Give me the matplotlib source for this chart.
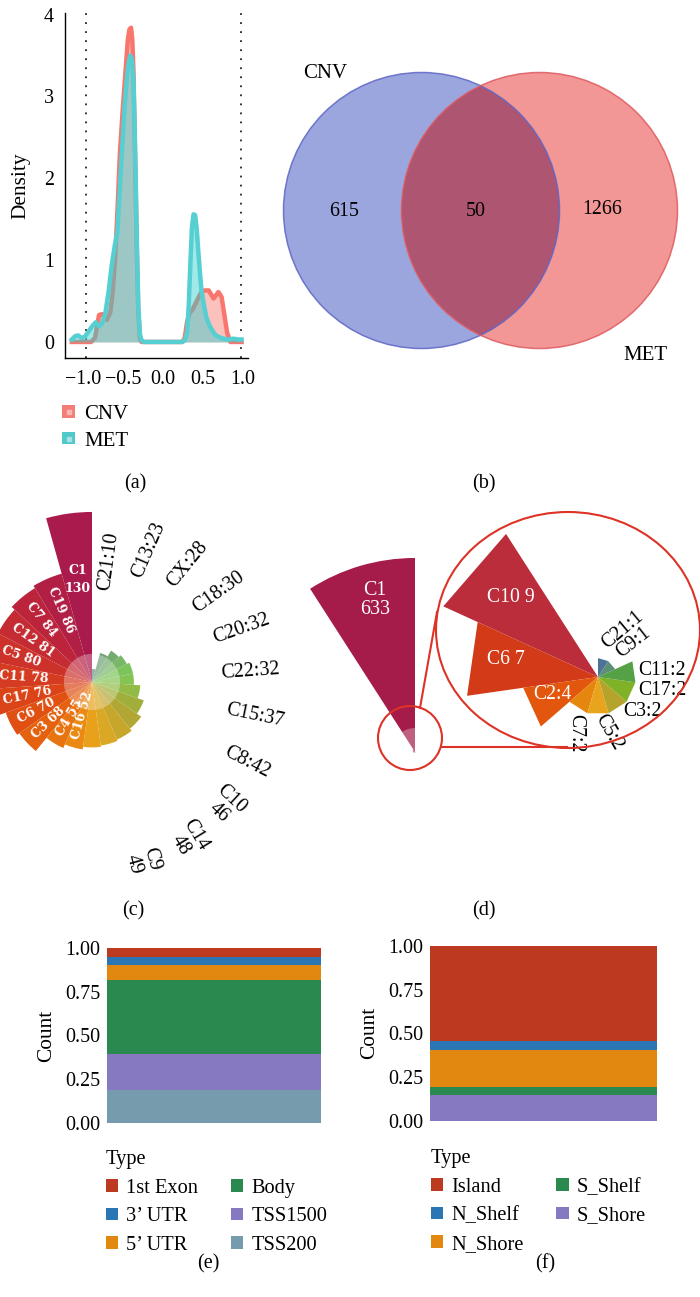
import numpy as np
import matplotlib
matplotlib.use("Agg")
import matplotlib.pyplot as plt
from matplotlib.patches import Circle, Ellipse, Patch, Polygon
from matplotlib.lines import Line2D

plt.rcParams['font.family'] = ['Liberation Serif', 'DejaVu Serif']

# ------------------------------------------------------------------ data
# (a) density of correlation values
cnv_x = [-1.14, -1.00, -0.90, -0.85, -0.80, -0.76, -0.70, -0.66, -0.63, -0.60,
         -0.57, -0.54, -0.50, -0.47, -0.44, -0.42, -0.40, -0.385, -0.37, -0.35,
         -0.33, -0.31, -0.29, -0.27, 0.24, 0.27, 0.30, 0.33, 0.37, 0.42,
         0.47, 0.52, 0.57, 0.63, 0.66, 0.69, 0.73, 0.77, 0.80, 0.84, 0.98]
cnv_density = [0.0, 0.0, 0.0, 0.05, 0.33, 0.34, 0.27, 0.36, 0.6, 1.0,
               1.6, 2.3, 2.9, 3.3, 3.7, 3.82, 3.84, 3.7, 3.3, 2.3,
               1.2, 0.4, 0.05, 0.0, 0.0, 0.05, 0.25, 0.35, 0.4, 0.5,
               0.6, 0.63, 0.63, 0.53, 0.57, 0.61, 0.55, 0.3, 0.11, 0.0, 0.0]
met_x = [-1.14, -1.10, -1.06, -1.02, -0.98, -0.93, -0.88, -0.84, -0.80, -0.76,
         -0.72, -0.68, -0.64, -0.60, -0.57, -0.54, -0.51, -0.48, -0.45, -0.43,
         -0.41, -0.39, -0.37, -0.355, -0.34, -0.325, -0.31, -0.29, -0.27, -0.24,
         0.24, 0.27, 0.30, 0.32, 0.34, 0.36, 0.38, 0.40, 0.42, 0.44,
         0.46, 0.48, 0.51, 0.54, 0.58, 0.62, 0.66, 0.72, 0.80, 0.88, 0.94, 0.98]
met_density = [0.03, 0.07, 0.08, 0.05, 0.06, 0.13, 0.20, 0.24, 0.19, 0.23,
               0.36, 0.62, 0.95, 1.20, 1.35, 1.90, 2.40, 2.90, 3.25, 3.42,
               3.50, 3.45, 3.20, 2.60, 1.90, 1.10, 0.45, 0.10, 0.02, 0.0,
               0.0, 0.02, 0.12, 0.45, 0.95, 1.40, 1.56, 1.55, 1.38, 1.10,
               0.85, 0.62, 0.45, 0.30, 0.20, 0.13, 0.08, 0.05, 0.03, 0.04, 0.03, 0.03]
density_cutoffs = [-0.96, 0.97]
density_xticks = [-1.0, -0.5, 0.0, 0.5, 1.0]
density_yticks = [0, 1, 2, 3, 4]
density_groups = ['CNV', 'MET']

# (b) Venn counts
venn_sets = ['CNV', 'MET']
venn_only_cnv = 615
venn_both = 50
venn_only_met = 1266

# (c) rose chart of chromosome counts
rose_c_chr = ['C1', 'C19', 'C7', 'C12', 'C5', 'C11', 'C17', 'C6', 'C3', 'C4', 'C16', 'C2',
              'C9', 'C14', 'C10', 'C8', 'C15', 'C22', 'C20', 'C18', 'CX', 'C13', 'C21']
rose_c_count = [130, 86, 84, 81, 80, 78, 76, 70, 68, 55, 52, 50,
                49, 48, 46, 42, 37, 32, 32, 30, 28, 23, 10]

# (d) rose chart of chromosome counts
rose_d_chr = ['C1', 'C10', 'C6', 'C2', 'C7', 'C5', 'C3', 'C17', 'C11', 'C9', 'C21']
rose_d_count = [633, 9, 7, 4, 2, 2, 2, 2, 2, 1, 1]

# (e), (f) stacked proportions
gene_types = ['1st Exon', '3\u2019 UTR', '5\u2019 UTR', 'Body', 'TSS1500', 'TSS200']
gene_share = [0.052, 0.044, 0.086, 0.424, 0.207, 0.187]
cpg_types = ['Island', 'N_Shelf', 'N_Shore', 'S_Shelf', 'S_Shore']
cpg_share = [0.544, 0.050, 0.213, 0.046, 0.147]
share_ticks = [0.00, 0.25, 0.50, 0.75, 1.00]

# ------------------------------------------------------------------ style
W, H = 700, 1297
fig = plt.figure(figsize=(W / 100, H / 100), dpi=100)


def rect(x0, y0, x1, y1):
    return [x0 / W, 1 - y1 / H, (x1 - x0) / W, (y1 - y0) / H]


CNV_COL, CNV_KEY, CNV_DOT = '#F8766D', '#F47E77', '#F9B7B2'
MET_COL, MET_FILL, MET_KEY, MET_DOT = '#55CFD1', '#2AD0CE', '#4FC9C9', '#A8E2E2'
ROSE_C_COLORS = ['#A91B4D', '#B21F45', '#BC243C', '#C42B33', '#CC322A', '#D43B20',
                 '#DA4418', '#DF5012', '#E4610F', '#E7740F', '#EA8A12', '#E9A11C',
                 '#DAA824', '#C6A72C', '#B2A634', '#A0AF3C', '#92BB46', '#85C454',
                 '#7CC35C', '#78B866', '#74AC6F', '#72A078', '#6E9584']
ROSE_D_COLORS = ['#A51C4B', '#BB2D3A', '#D23A18', '#E2560E', '#E5860F', '#E8A41C',
                 '#B6A32B', '#7FB226', '#55A146', '#5D8E76', '#4C7397']
GENE_COLORS = ['#BC3A1F', '#2A75B3', '#E2870F', '#2A894E', '#8779C1', '#769BAD']
CPG_COLORS = ['#BC3A1F', '#2A75B3', '#E2870F', '#2A894E', '#8779C1']
ZOOM_RED = '#DD3327'
TICK_FS = 14.4
LAB_FS = 15.4
LEG_FS = 14.7

# ------------------------------------------------------------------ (a)
axa = fig.add_axes(rect(65, 13, 248, 358))
axa.fill_between(cnv_x, cnv_density, 0, color=CNV_COL, alpha=0.45, lw=0, zorder=1)
axa.plot(cnv_x, cnv_density, color=CNV_COL, lw=3.2, zorder=2, solid_joinstyle='round')
axa.fill_between(met_x, met_density, 0, color=MET_FILL, alpha=0.45, lw=0, zorder=3)
axa.plot(met_x, met_density, color=MET_COL, lw=3.2, zorder=4, solid_joinstyle='round')
for c in density_cutoffs:
    axa.axvline(c, color='#222222', lw=1.3, ls=(0, (1, 4)), zorder=0)
axa.set_xlim(-1.225, 1.06)
axa.set_ylim(-0.196, 4.02)
axa.set_xticks(density_xticks)
axa.set_yticks(density_yticks)
axa.tick_params(length=0, labelsize=TICK_FS)
axa.tick_params(axis='x', pad=9)
axa.tick_params(axis='y', pad=8)
for s in ['top', 'right']:
    axa.spines[s].set_visible(False)
for s in ['left', 'bottom']:
    axa.spines[s].set_linewidth(1.0)
axa.set_ylabel('Density', fontsize=LAB_FS, labelpad=10)

handles_a = [(Patch(facecolor=CNV_KEY, edgecolor='none'),
              Line2D([], [], marker='s', ms=3, color=CNV_DOT, ls='')),
             (Patch(facecolor=MET_KEY, edgecolor='none'),
              Line2D([], [], marker='s', ms=3, color=MET_DOT, ls=''))]
fig.legend(handles_a, density_groups, loc='upper left',
           bbox_to_anchor=(62 / W, 1 - 405 / H), frameon=False, fontsize=15,
           handlelength=0.64, handleheight=0.55, handletextpad=0.42,
           labelspacing=0.36, borderpad=0, borderaxespad=0)

# ------------------------------------------------------------------ (b)
axb = fig.add_axes(rect(270, 40, 700, 370))
axb.set_xlim(270, 700)
axb.set_ylim(370, 40)
axb.set_axis_off()
VR = 138
c_cnv, c_met = (421.5, 210.5), (539.5, 210.5)
blue = Circle(c_cnv, VR, facecolor='#9BA6DE', edgecolor='none', zorder=1)
red = Circle(c_met, VR, facecolor='#F29696', edgecolor='none', zorder=2)
axb.add_patch(blue)
axb.add_patch(red)
lens = Circle(c_cnv, VR, facecolor='#AD5571', edgecolor='none', zorder=3)
axb.add_patch(lens)
lens.set_clip_path(red)
axb.add_patch(Circle(c_cnv, VR, fill=False, edgecolor='#5E66C6', lw=1.1, alpha=0.85, zorder=4))
axb.add_patch(Circle(c_met, VR, fill=False, edgecolor='#DE5A60', lw=1.1, alpha=0.85, zorder=4))
axb.text(325, 73, venn_sets[0], ha='center', va='center', fontsize=15)
axb.text(645, 355, venn_sets[1], ha='center', va='center', fontsize=15)
axb.text(344, 211, str(venn_only_cnv), ha='center', va='center', fontsize=14.4)
axb.text(476, 211, str(venn_both), ha='center', va='center', fontsize=14.4)
axb.text(602, 209, str(venn_only_met), ha='center', va='center', fontsize=14.4)

# ------------------------------------------------------------------ (c)
PXC = 1.308          # pixels per count
RC = 260             # axes radius in px
axc = fig.add_axes(rect(92 - RC, 682 - RC, 92 + RC, 682 + RC), projection='polar')
axc.set_theta_zero_location('N')
axc.set_theta_direction(1)
n_c = len(rose_c_count)
step_c = 2 * np.pi / n_c
theta_c = np.arange(n_c) * step_c
axc.bar(theta_c, rose_c_count, width=step_c, align='edge', color=ROSE_C_COLORS,
        edgecolor='none', zorder=1)
axc.bar(theta_c, np.full(n_c, 21.5), width=step_c, align='edge', color='white',
        alpha=0.3, edgecolor='none', zorder=2)
axc.set_ylim(0, RC / PXC)
axc.set_axis_off()
for i, (name, v) in enumerate(zip(rose_c_chr, rose_c_count)):
    mid = theta_c[i] + step_c / 2
    scr = 90 + np.degrees(mid)
    if i == 0:
        axc.text(mid, 79, f'{name}\n{v}', ha='center', va='center', color='white',
                 family=['DejaVu Serif'], fontweight='bold', fontsize=9,
                 linespacing=1.5, zorder=5)
    elif v > 50:
        axc.text(mid, v - 7, f'{name} {v}', rotation=scr - 180, rotation_mode='anchor',
                 ha='left', va='center', color='white', family=['DejaVu Serif'],
                 fontweight='bold', fontsize=9, zorder=5)
    elif v < 50:
        rot = scr - 360 if scr > 180 else scr
        sep = '\n' if 270 < scr < 320 else ':'
        axc.text(mid, 80 + 1.28 * v, f'{name}{sep}{v}', rotation=rot,
                 rotation_mode='anchor', ha='center', va='center', fontsize=14.4,
                 linespacing=0.95, zorder=5)

# ------------------------------------------------------------------ (d)
PXD = 0.3065
RD = 230
axd = fig.add_axes(rect(415 - RD, 752 - RD, 415 + RD, 752 + RD), projection='polar')
axd.set_theta_zero_location('N')
axd.set_theta_direction(1)
n_d = len(rose_d_count)
step_d = 2 * np.pi / n_d
theta_d = np.arange(n_d) * step_d
axd.bar(theta_d, rose_d_count, width=step_d, align='edge', color=ROSE_D_COLORS,
        edgecolor='none', zorder=1)
axd.bar(theta_d, np.full(n_d, 78), width=step_d, align='edge', color='white',
        alpha=0.3, edgecolor='none', zorder=2)
axd.set_ylim(0, RD / PXD)
axd.set_axis_off()
axd.text(np.deg2rad(14.7), 512, f'{rose_d_chr[0]}\n{rose_d_count[0]}', ha='center',
         va='center', color='white', fontsize=14.4, linespacing=1.0, zorder=5)

# magnified inset of the small sectors
S = 18.9
icx, icy = 598, 677
axi = fig.add_axes(rect(440, 505, 705, 765))
axi.set_xlim((440 - icx) / S, (705 - icx) / S)
axi.set_ylim((icy - 765) / S, (icy - 505) / S)
axi.set_axis_off()
inset_lab_ang = [137.4, 169.5, 200.3, 248.5, 281, 322, 348.5, 6.2, 44, 62]
inset_lab_r = [6.25, 4.95, 2.6, 3.2, 2.96, 3.0, 3.46, 3.4, 2.6, 2.8]
inset_lab_rot = [0, 0, 0, -90, -60, 0, 0, 0, 38, 40]
for k in range(1, n_d):
    v = rose_d_count[k]
    a1 = np.pi / 2 + theta_d[k]
    a2 = a1 + step_d
    axi.add_patch(Polygon([[0, 0], [v * np.cos(a1), v * np.sin(a1)],
                           [v * np.cos(a2), v * np.sin(a2)]],
                          closed=True, facecolor=ROSE_D_COLORS[k], edgecolor='none'))
    j = k - 1
    ang = np.deg2rad(inset_lab_ang[j])
    white = v >= 4
    sep = ' ' if v >= 7 else ':'
    axi.text(inset_lab_r[j] * np.cos(ang), inset_lab_r[j] * np.sin(ang),
             f'{rose_d_chr[k]}{sep}{v}', ha='center', va='center',
             rotation=inset_lab_rot[j], rotation_mode='anchor', clip_on=False,
             color='white' if white else 'black', fontsize=14.2, zorder=5)

# ------------------------------------------------------------------ (e), (f)
def stacked(ax_rect, types, shares, colors, leg_xy, ylab_pad):
    ax = fig.add_axes(ax_rect)
    bottom = 0.0
    for t, s, c in reversed(list(zip(types, shares, colors))):
        ax.bar(0, s, bottom=bottom, width=0.9, color=c, lw=0)
        bottom += s
    ax.set_xlim(-0.45, 0.45)
    ax.set_ylim(-0.05, 1.05)
    ax.set_xticks([])
    ax.set_yticks(share_ticks, labels=[f'{t:.2f}' for t in share_ticks])
    ax.tick_params(length=0, labelsize=TICK_FS, pad=5)
    for sp in ax.spines.values():
        sp.set_visible(False)
    ax.set_ylabel('Count', fontsize=LAB_FS, labelpad=ylab_pad)
    hs = [Patch(facecolor=c, edgecolor='none') for c in colors]
    ax.legend(hs, types, ncol=2, title='Type', loc='upper left',
              bbox_to_anchor=(leg_xy[0] / W, 1 - leg_xy[1] / H),
              bbox_transform=fig.transFigure, frameon=False, alignment='left',
              fontsize=LEG_FS, title_fontsize=LEG_FS, handlelength=0.6,
              handleheight=0.6, handletextpad=0.4, labelspacing=0.47,
              columnspacing=1.6, borderpad=0, borderaxespad=0)
    return ax


stacked(rect(107, 939.6, 321, 1131.4), gene_types, gene_share, GENE_COLORS, (106, 1150), 6)
stacked(rect(430, 937.3, 657, 1129.4), cpg_types, cpg_share, CPG_COLORS, (431, 1149), 6)

# ------------------------------------------------------------------ overlay
ov = fig.add_axes([0, 0, 1, 1])
ov.set_xlim(0, W)
ov.set_ylim(H, 0)
ov.set_axis_off()
ov.add_patch(Ellipse((568, 630), 264, 236, fill=False, edgecolor=ZOOM_RED, lw=1.5))
ov.add_patch(Circle((410, 738), 32, fill=False, edgecolor=ZOOM_RED, lw=1.5))
ov.plot([420, 437], [708, 612], color=ZOOM_RED, lw=1.5)
ov.plot([442, 567], [747, 747], color=ZOOM_RED, lw=1.5)

for lab, x, y in [('(a)', 135, 484), ('(b)', 484, 484), ('(c)', 133, 911),
                  ('(d)', 484, 911), ('(e)', 208, 1264), ('(f)', 545, 1264)]:
    fig.text(x / W, 1 - y / H, lab, ha='center', va='center', fontsize=14.5)

fig.savefig('out.png', dpi=100)
